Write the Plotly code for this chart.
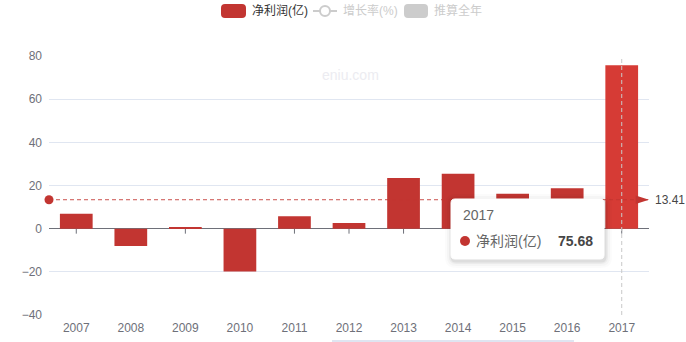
import plotly.graph_objects as go

# 净利润 by year (亿)
years = ["2007", "2008", "2009", "2010", "2011", "2012", "2013", "2014", "2015", "2016", "2017"]
profit = [6.9, -8.0, 0.6, -19.9, 5.7, 2.6, 23.5, 25.5, 16.2, 18.73, 75.68]
y_ticks = [-40, -20, 0, 20, 40, 60, 80]
legend_names = ["净利润(亿)", "增长率(%)", "推算全年"]
watermark = "eniu.com"
focus_index = 10  # year shown in the tooltip

W, H = 686, 342
ML, MR, MT, MB = 49, 37, 56, 27
PW, PH = W - ML - MR, H - MT - MB

RED = "#C23531"
RED_HI = "#D63B35"
GREY_TXT = "#6E7079"
FONT = "Liberation Sans, Noto Sans CJK SC, sans-serif"

xs = list(range(len(years)))
avg = sum(profit) / len(profit)


def px(X):
    return (X - ML) / PW


def py(Y):
    return (MT + PH - Y) / PH


def round_rect(x0, y0, x1, y1, r):
    pts = [
        ("M", [(x0 + r, y0)]), ("L", [(x1 - r, y0)]), ("Q", [(x1, y0), (x1, y0 + r)]),
        ("L", [(x1, y1 - r)]), ("Q", [(x1, y1), (x1 - r, y1)]), ("L", [(x0 + r, y1)]),
        ("Q", [(x0, y1), (x0, y1 - r)]), ("L", [(x0, y0 + r)]), ("Q", [(x0, y0), (x0 + r, y0)]),
    ]
    s = ""
    for cmd, ps in pts:
        s += cmd + " ".join(f"{px(a):.5f},{py(b):.5f}" for a, b in ps) + " "
    return s + "Z"


fig = go.Figure()

bar_colors = [RED_HI if i == focus_index else RED for i in xs]
fig.add_trace(go.Bar(
    x=xs, y=profit, width=0.6, marker=dict(color=bar_colors, line=dict(width=0)),
    name=legend_names[0], showlegend=False, hoverinfo="skip",
))

# average mark line
fig.add_trace(go.Scatter(
    x=[-0.5, len(years) - 0.5], y=[avg, avg], mode="lines",
    line=dict(color=RED, width=1, dash="4px,3px"), opacity=0.85,
    cliponaxis=False, showlegend=False, hoverinfo="skip",
))
fig.add_trace(go.Scatter(
    x=[-0.5, len(years) - 0.5], y=[avg, avg], mode="markers",
    marker=dict(symbol=["circle", "arrow"], size=[9, 14], angle=[0, 90], color=RED,
                opacity=1, line=dict(width=0)),
    cliponaxis=False, showlegend=False, hoverinfo="skip",
))

shapes = []
# small ticks hanging under the zero line
for i in xs:
    shapes.append(dict(type="line", xref="x", yref="y", x0=i, x1=i,
                       ysizemode="pixel", yanchor=0, y0=0, y1=-5,
                       line=dict(color=GREY_TXT, width=1), layer="between"))
# axis pointer
shapes.append(dict(type="line", xref="x", yref="paper", x0=focus_index, x1=focus_index,
                   y0=0, y1=1, line=dict(color="#C8C8C8", width=1, dash="4px,3px"), layer="above"))

# tooltip box with soft shadow
tx0, ty0, tx1, ty1 = 451, 199, 604, 259
for k, op in [(7, 0.015), (5, 0.025), (3, 0.04), (1.5, 0.06)]:
    shapes.append(dict(type="path", xref="paper", yref="paper",
                       path=round_rect(tx0 - k + 1, ty0 - k + 2, tx1 + k + 1, ty1 + k + 2, 4 + k),
                       fillcolor=f"rgba(0,0,0,{op})", line=dict(width=0), layer="above"))
shapes.append(dict(type="path", xref="paper", yref="paper",
                   path=round_rect(tx0, ty0, tx1, ty1, 4),
                   fillcolor="white", line=dict(color="white", width=1), layer="above"))
shapes.append(dict(type="circle", xref="paper", yref="paper",
                   x0=px(460), x1=px(470), y0=py(236), y1=py(246),
                   fillcolor=RED, line=dict(width=0), layer="above"))

# legend icons
shapes.append(dict(type="path", xref="paper", yref="paper", path=round_rect(221, 4, 246, 18, 4),
                   fillcolor=RED, line=dict(width=0)))
shapes.append(dict(type="line", xref="paper", yref="paper", x0=px(313), x1=px(337), y0=py(11), y1=py(11),
                   line=dict(color="#CCCCCC", width=2)))
shapes.append(dict(type="circle", xref="paper", yref="paper", x0=px(320), x1=px(330), y0=py(6), y1=py(16),
                   fillcolor="white", line=dict(color="#CCCCCC", width=2)))
shapes.append(dict(type="path", xref="paper", yref="paper", path=round_rect(404, 4, 428, 18, 4),
                   fillcolor="#CCCCCC", line=dict(width=0)))

# data zoom strip peeking at the bottom
shapes.append(dict(type="rect", xref="paper", yref="paper", x0=px(332), x1=px(574), y0=py(340), y1=py(344),
                   fillcolor="#DFE5F1", line=dict(width=0)))

annotations = [
    dict(text=legend_names[0], x=px(250), y=py(11), xanchor="left", yanchor="middle",
         font=dict(size=12, color="#333333")),
    dict(text=legend_names[1], x=px(341), y=py(11), xanchor="left", yanchor="middle",
         font=dict(size=12, color="#CCCCCC")),
    dict(text=legend_names[2], x=px(432), y=py(11), xanchor="left", yanchor="middle",
         font=dict(size=12, color="#CCCCCC")),
    dict(text=watermark, x=px(350), y=py(75), xanchor="center", yanchor="middle",
         font=dict(size=14, color="#ECECF1")),
    dict(text=f"{avg:.2f}", xref="x", yref="y", x=len(years) - 0.5, y=avg, xanchor="left",
         yanchor="middle", xshift=4, font=dict(size=12, color="#464646")),
    dict(text=years[focus_index], x=px(461), y=py(215), xanchor="left", yanchor="middle",
         font=dict(size=14, color="#666666")),
    dict(text=legend_names[0], x=px(474), y=py(241), xanchor="left", yanchor="middle",
         font=dict(size=14, color="#666666")),
    dict(text=f"<b>{profit[focus_index]:.2f}</b>", x=px(595), y=py(241), xanchor="right",
         yanchor="middle", font=dict(size=14, color="#464646")),
]
for a in annotations:
    a.setdefault("xref", "paper")
    a.setdefault("yref", "paper")
    a["showarrow"] = False

fig.update_layout(
    width=W, height=H, margin=dict(l=ML, r=MR, t=MT, b=MB, autoexpand=False),
    paper_bgcolor="white", plot_bgcolor="white",
    font=dict(family=FONT, size=12, color=GREY_TXT),
    showlegend=False, hovermode=False,
    shapes=shapes, annotations=annotations,
    xaxis=dict(range=[-0.5, len(years) - 0.5], tickvals=xs, ticktext=years,
               showgrid=False, zeroline=False, showline=False, ticks="", automargin=False,
               tickfont=dict(size=12, color=GREY_TXT), ticklabelstandoff=4),
    yaxis=dict(range=[y_ticks[0], y_ticks[-1]], tickvals=y_ticks, automargin=False,
               showgrid=True, gridcolor="#E0E6F1", gridwidth=1,
               zeroline=True, zerolinecolor=GREY_TXT, zerolinewidth=1,
               showline=False, ticks="", tickfont=dict(size=12, color=GREY_TXT),
               ticklabelstandoff=6),
)

fig.write_html("out.html")
